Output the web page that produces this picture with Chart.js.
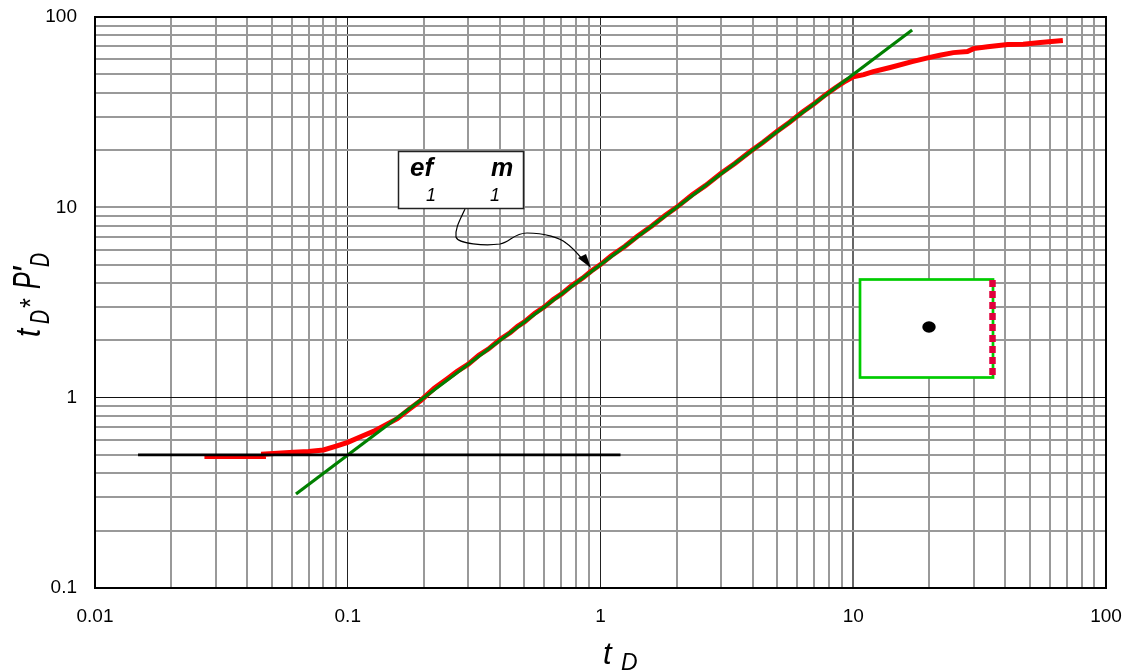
<!DOCTYPE html>
<html>
<head>
<meta charset="utf-8">
<script src="https://cdn.jsdelivr.net/npm/chart.js@4"></script>
<style>html,body{margin:0;padding:0;background:#fff}canvas{display:block}#w{width:1130px;height:671px}</style>
</head>
<body>
<div id="w"><canvas id="c" width="1130" height="671"></canvas></div>
<script>
const xTickLabels = [0.01, 0.1, 1, 10, 100];
const yTickLabels = [0.1, 1, 10, 100];
const minorSteps = [1, 2, 3, 4, 5, 6, 7, 8, 9];
const responseT = [0.0271,0.035,0.0464,0.0464,0.061,0.07,0.0802,0.09,0.1,0.113,0.1264,0.14,0.157,0.175,0.194,0.22,0.25,0.27,0.3,0.33,0.36,0.4,0.44,0.47,0.5,0.55,0.6,0.65,0.7,0.77,0.85,0.92,1,1.1,1.25,1.4,1.6,1.8,2,2.3,2.6,3,3.4,3.9,4.4,5,5.6,6.3,7,7.8,8.5,9.3,10,11,12,14,17.1,19.9,22,24.9,28.3,29.9,34,40.8,47,55,67.5];
const responseP = [0.4915,0.4915,0.4915,0.505,0.516,0.522,0.531,0.556,0.582,0.625,0.665,0.715,0.776,0.87,0.964,1.12,1.27,1.37,1.5,1.67,1.8,2.02,2.2,2.37,2.5,2.78,3,3.28,3.5,3.88,4.25,4.63,5,5.55,6.25,7.05,8,9.05,10,11.6,13,15.1,17,19.6,22,25.1,28,31.7,35,39.2,42.5,46,48.5,49.8,51.6,54.3,58.3,61.2,63,65,65.8,68.2,69.8,71.6,72,73.4,75.2];
const unitSlopeT = [0.0624, 17.1];
const unitSlopeP = [0.312, 85.5];
const radialT = [0.0148, 1.2];
const radialP = [0.5, 0.5];
const pts = (xs, ys) => xs.map((x, i) => ({x, y: ys[i]}));
const FONT = '"Liberation Sans", Arial, sans-serif';
const same = (a, b) => Math.abs(a - b) < b * 1e-6;
const gridTicks = labels => {
  const out = [];
  labels.forEach((d, i) => {
    if (i === labels.length - 1) { out.push({value: d}); return; }
    minorSteps.forEach(m => out.push({value: +(d * m).toPrecision(3)}));
  });
  return out;
};
const noPad = s => { s.paddingTop = 0; s.paddingBottom = 0; s.paddingLeft = 0; s.paddingRight = 0; };

const extras = {
  id: 'extras',
  afterDraw(chart) {
    const c = chart.ctx;
    c.save();
    const txt = (s, x, y, font, sx) => {
      c.save();
      c.translate(x, y); c.scale(sx || 1, 1);
      c.font = font + ' ' + FONT; c.textAlign = 'left'; c.textBaseline = 'alphabetic';
      c.fillStyle = '#000'; c.fillText(s, 0, 0);
      c.restore();
    };
    // x axis title
    txt('t', 603, 664, 'italic 31px');
    txt('D', 621, 670, 'italic 23px');
    // y axis title
    c.save();
    c.translate(40, 338); c.rotate(-Math.PI / 2);
    txt('t', 1, 0, 'italic 35px', 0.85);
    txt('D', 14, 9, 'italic 27px', 0.72);
    txt('*', 29, 0, 'italic 30px', 0.85);
    txt('P', 49, 0, 'italic 38px', 0.66);
    txt("'", 64, 0, 'italic 38px');
    txt('D', 71, 9, 'italic 27px', 0.72);
    c.restore();
    // curved leader and arrowhead
    c.strokeStyle = '#000'; c.lineWidth = 1.2; c.beginPath();
    c.moveTo(465, 209);
    c.bezierCurveTo(460, 220, 455, 228, 456, 237);
    c.bezierCurveTo(458, 244, 485, 246, 500, 244);
    c.bezierCurveTo(510, 242, 514, 233, 527, 233);
    c.bezierCurveTo(545, 233, 560, 238, 566, 243);
    c.bezierCurveTo(572, 247, 578, 254, 583, 260);
    c.stroke();
    c.fillStyle = '#000'; c.beginPath();
    c.moveTo(591, 268); c.lineTo(578, 258); c.lineTo(586, 254); c.closePath(); c.fill();
    // text box
    c.fillStyle = '#fff'; c.fillRect(398.5, 151.5, 125, 57);
    c.strokeStyle = '#222'; c.lineWidth = 1.5; c.strokeRect(398.5, 151.5, 125, 57);
    txt('ef', 410, 176, 'italic bold 26px');
    txt('m', 491, 176, 'italic bold 25px');
    txt('1', 426, 201, 'italic 18px');
    txt('1', 490, 201, 'italic 18px');
    // inset well sketch
    c.fillStyle = '#fff'; c.fillRect(860, 279, 133, 98);
    c.strokeStyle = '#00cc00'; c.lineWidth = 2.7; c.strokeRect(860, 279.5, 133, 98);
    c.strokeStyle = '#e0003c'; c.lineWidth = 6.5; c.setLineDash([7, 4]);
    c.beginPath(); c.moveTo(992.5, 280); c.lineTo(992.5, 376); c.stroke(); c.setLineDash([]);
    c.fillStyle = '#000'; c.beginPath(); c.ellipse(929, 327, 6.7, 5.7, 0, 0, Math.PI * 2); c.fill();
    c.restore();
  }
};

new Chart(document.getElementById('c'), {
  type: 'scatter',
  data: { datasets: [
    { label: 'Response', data: pts(responseT, responseP), showLine: true, borderColor: '#ff0000', borderWidth: 5, pointRadius: 0, tension: 0, order: 3 },
    { label: 'Unit slope', data: pts(unitSlopeT, unitSlopeP), showLine: true, borderColor: '#008000', borderWidth: 3.2, pointRadius: 0, order: 2 },
    { label: 'Radial', data: pts(radialT, radialP), showLine: true, borderColor: '#000', borderWidth: 2.8, pointRadius: 0, order: 1 }
  ]},
  options: {
    responsive: false, animation: false,
    layout: { padding: { top: 17, right: 24, left: 0, bottom: 0 } },
    plugins: { legend: { display: false }, tooltip: { enabled: false } },
    scales: {
      x: {
        type: 'logarithmic', min: 0.01, max: 100,
        afterBuildTicks: s => { s.ticks = gridTicks(xTickLabels); },
        afterFit: s => { s.height = 83; noPad(s); },
        border: { color: '#000', width: 2 },
        grid: {
          drawTicks: false,
          color: ctx => { const v = ctx.tick.value; return v === 10 ? '#666' : (xTickLabels.includes(v) ? '#222' : '#999'); },
          lineWidth: ctx => { const v = ctx.tick.value; return (v === 0.1 || v === 1) ? 1 : 2; }
        },
        ticks: {
          autoSkip: false, maxRotation: 0, padding: 17, color: '#000', font: { family: FONT, size: 19 },
          callback: v => xTickLabels.some(t => same(v, t)) ? String(v) : ''
        }
      },
      y: {
        type: 'logarithmic', min: 0.1, max: 100,
        afterBuildTicks: s => { s.ticks = gridTicks(yTickLabels); },
        afterFit: s => { s.width = 95; noPad(s); },
        border: { color: '#000', width: 2 },
        grid: {
          drawTicks: false,
          color: ctx => ctx.tick.value === 1 ? '#111' : '#999',
          lineWidth: ctx => ctx.tick.value === 1 ? 1 : 2
        },
        ticks: {
          autoSkip: false, padding: 18, color: '#000', font: { family: FONT, size: 19 },
          callback: v => yTickLabels.some(t => same(v, t)) ? String(v) : ''
        }
      }
    }
  },
  plugins: [extras, {
    id: 'frame',
    afterDatasetsDraw(chart) {
      const {ctx: c, chartArea: a} = chart;
      c.save(); c.strokeStyle = '#000'; c.lineWidth = 2;
      c.strokeRect(a.left, a.top, a.right - a.left, a.bottom - a.top); c.restore();
    }
  }]
});
</script>
</body>
</html>
